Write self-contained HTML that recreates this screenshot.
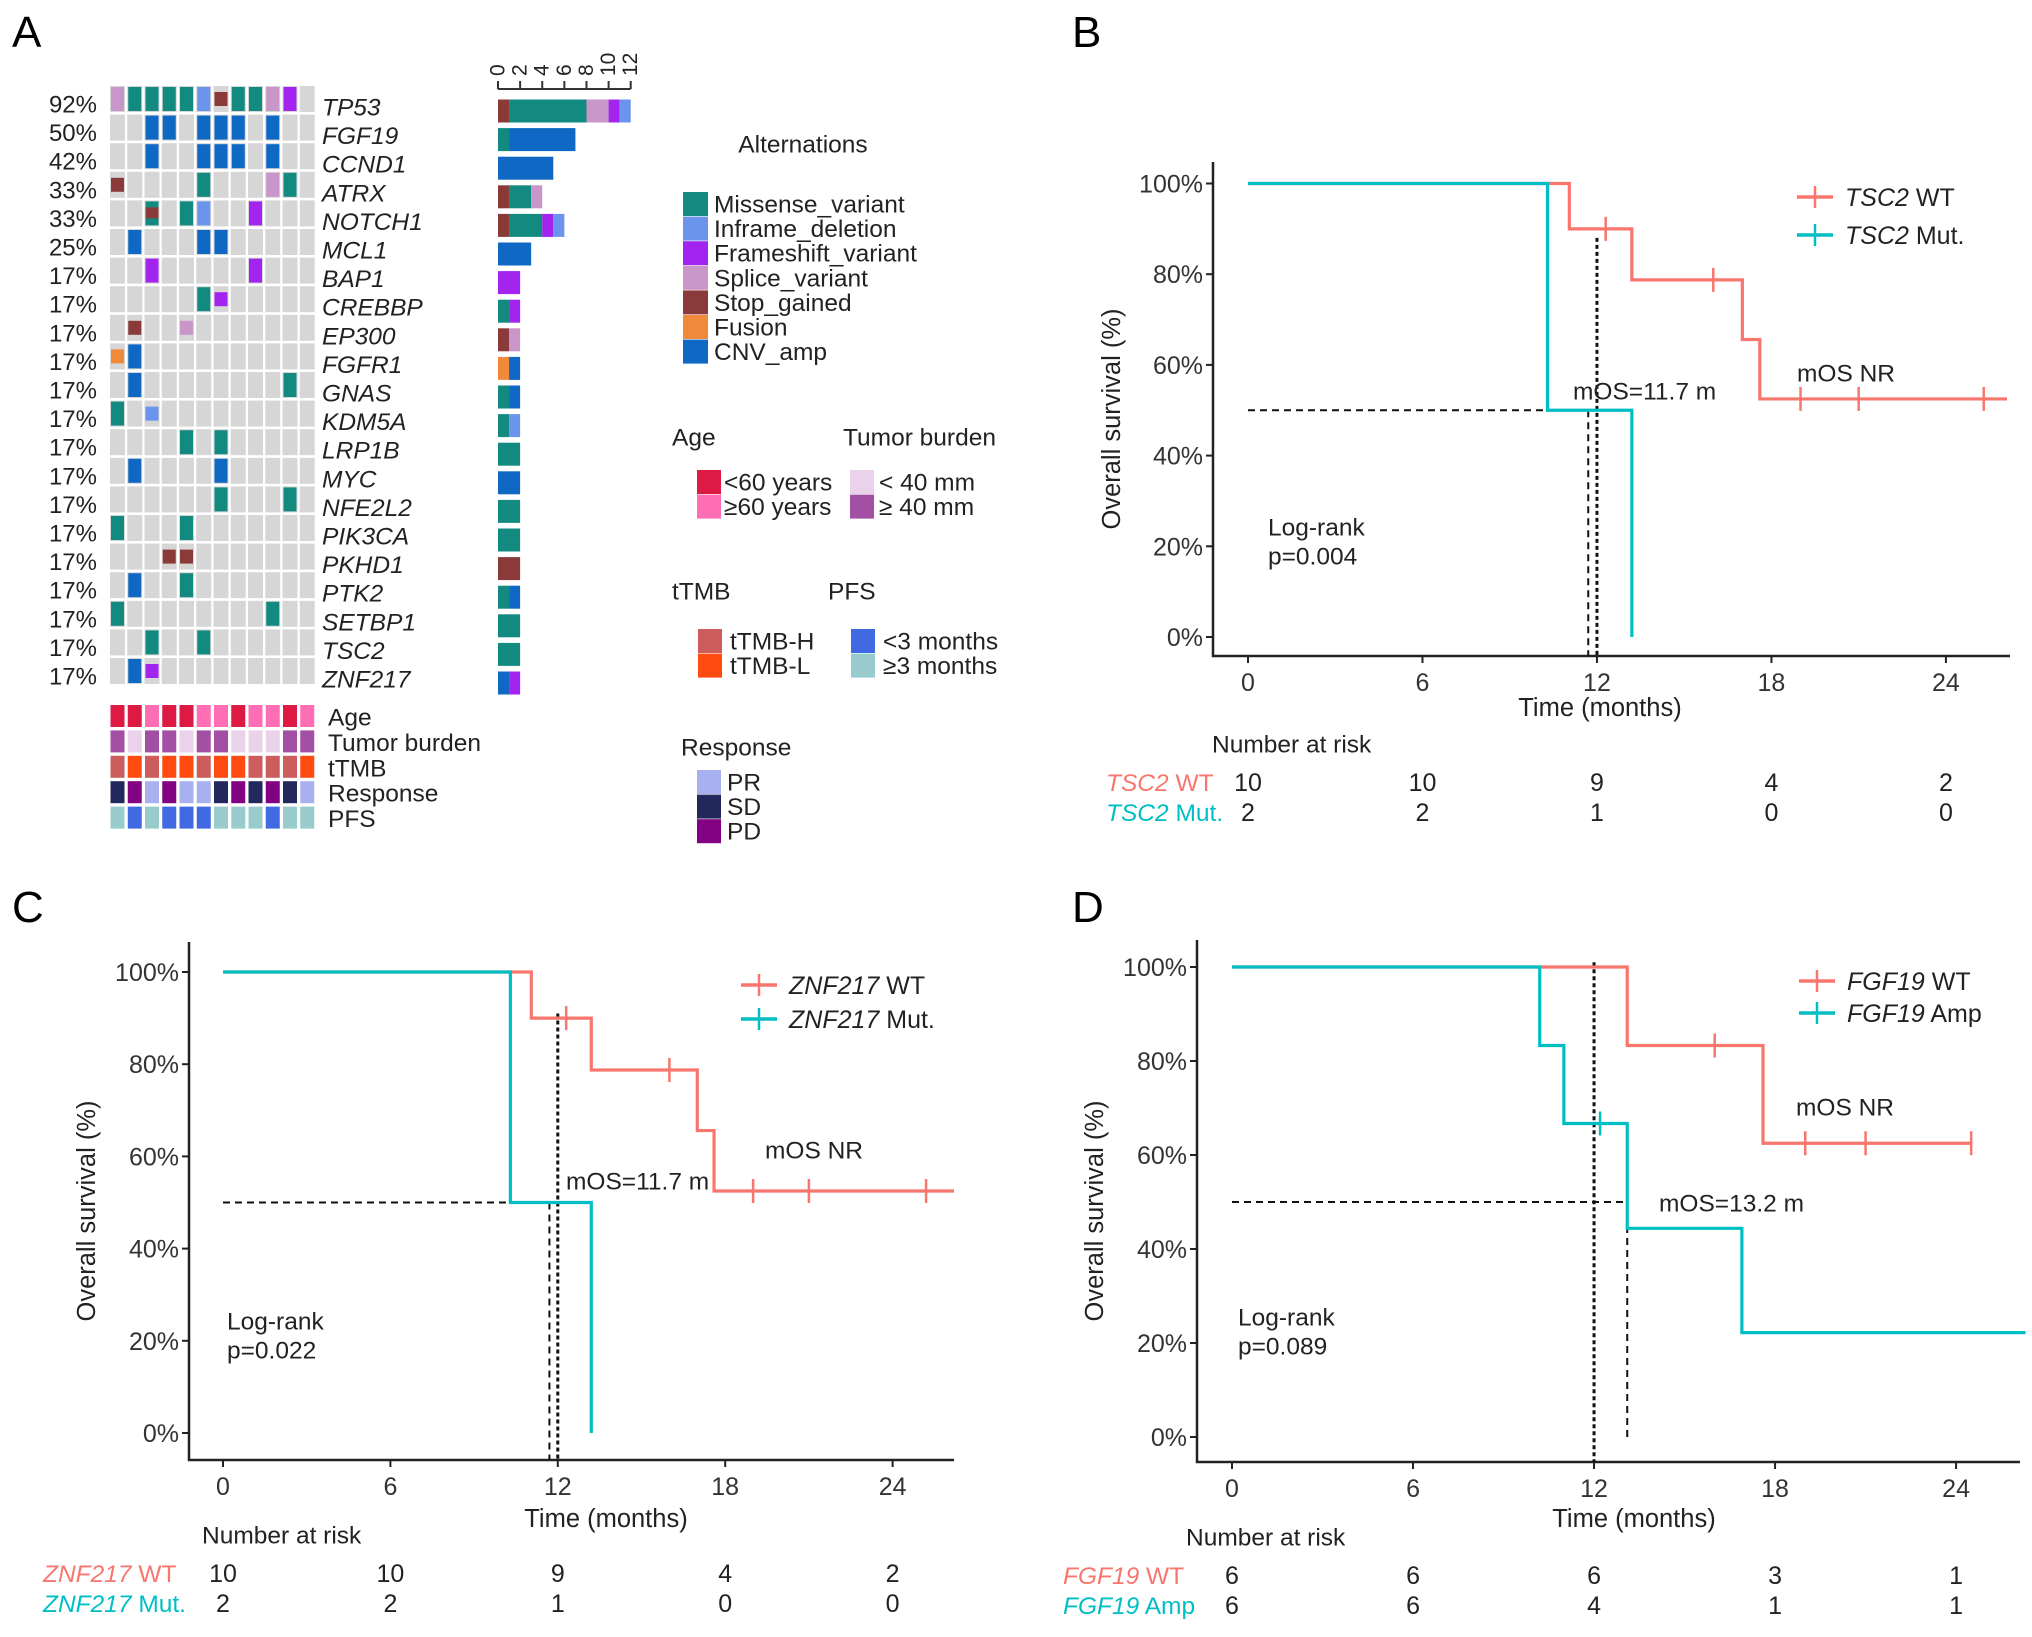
<!DOCTYPE html>
<html><head><meta charset="utf-8">
<style>
html,body{margin:0;padding:0;background:#fff;}
svg{display:block;font-family:"Liberation Sans",Arial,sans-serif;}
</style></head>
<body>
<svg id="fig" xmlns="http://www.w3.org/2000/svg" width="2032" height="1637" viewBox="0 0 2032 1637">
<rect width="2032" height="1637" fill="#fff"/>
<text x="12" y="47" font-size="44">A</text>
<text x="1072" y="47" font-size="44">B</text>
<text x="12" y="922" font-size="44">C</text>
<text x="1072" y="922" font-size="44">D</text>
<g id="gA"></g>
<g id="gB"></g>
<g id="gC"></g>
<g id="gD"></g>
</svg>
<script>
// ---------- Oncoprint data ----------
const genes = ["TP53","FGF19","CCND1","ATRX","NOTCH1","MCL1","BAP1","CREBBP","EP300","FGFR1","GNAS","KDM5A","LRP1B","MYC","NFE2L2","PIK3CA","PKHD1","PTK2","SETBP1","TSC2","ZNF217"];
const pctLabels = ["92%","50%","42%","33%","33%","25%","17%","17%","17%","17%","17%","17%","17%","17%","17%","17%","17%","17%","17%","17%","17%"];
// M missense, I inframe, F frameshift, P splice, X stop, U fusion, C cnv, Z missense+stop; lowercase = small mark
const mutMatrix = [
"PMMMMIxMMPF.",
"..CC.CCC.C..",
"..C..CCC.C..",
"x....M...PM.",
"..Z.MI..F...",
".C...CC.....",
"..F.....F...",
".....Mf.....",
".x..p.......",
"uC..........",
".C........M.",
"M.i.........",
"....M.M.....",
".C....C.....",
"......M...M.",
"M...M.......",
"...xx.......",
".C..M.......",
"M........M..",
"..M..M......",
".Cf........."];
const barSegments = [
[["X",1],["M",7],["P",2],["F",1],["I",1]],
[["M",1],["C",6]],
[["C",5]],
[["X",1],["M",2],["P",1]],
[["X",1],["M",3],["F",1],["I",1]],
[["C",3]],
[["F",2]],
[["M",1],["F",1]],
[["X",1],["P",1]],
[["U",1],["C",1]],
[["M",1],["C",1]],
[["M",1],["I",1]],
[["M",2]],
[["C",2]],
[["M",2]],
[["M",2]],
[["X",2]],
[["M",1],["C",1]],
[["M",2]],
[["M",2]],
[["C",1],["F",1]]];
const barTicks = [0,2,4,6,8,10,12];
const annoNames = ["Age","Tumor burden","tTMB","Response","PFS"];
const annoAge = "yyoyyooyooyo";
const annoTumor = "hlhhlhhlllhh";
const annoTmb = "HLHLLHLLHHHL";
const annoResp = "SDRDRRSDSDSR";
const annoPfs = "lslssslllsll";

const mutColors = {M:"#138a80",I:"#6b95ec",F:"#a424ef",P:"#c896c8",X:"#8b3a3a",U:"#f08a3a",C:"#0e68c4"};
const mutNames = ["Missense_variant","Inframe_deletion","Frameshift_variant","Splice_variant","Stop_gained","Fusion","CNV_amp"];
const mutKeys = ["M","I","F","P","X","U","C"];
const annoColors = {
 Age:{y:"#dc1a44",o:"#ff6eb4"},
 "Tumor burden":{h:"#a34fa3",l:"#ead3ea"},
 tTMB:{H:"#cd5c5c",L:"#ff4a10"},
 Response:{R:"#a8b0f0",S:"#23285c",D:"#820082"},
 PFS:{s:"#4169e1",l:"#98cccc"}};

const NS="http://www.w3.org/2000/svg";
function mk(tag,attrs,parent,txt){const e=document.createElementNS(NS,tag);for(const k in attrs)e.setAttribute(k,attrs[k]);if(txt!==undefined)e.textContent=txt;parent.appendChild(e);return e;}

// ---------- draw oncoprint ----------
(function(){
 const g=document.getElementById("gA");
 const gx0=110, colW=17.25, cellW=15, gy0=86, rowH=28.6, cellH=26;
 genes.forEach((gn,r)=>{
  const y=gy0+r*rowH, cy=y+cellH/2;
  const pl=mk("text",{x:97,y:cy+6,"font-size":24,"text-anchor":"end","dominant-baseline":"central",fill:"#222"},g,pctLabels[r]);
  
  
  const gl=mk("text",{x:322,y:cy+9,"font-size":24.5,"font-style":"italic","dominant-baseline":"central",fill:"#222"},g,gn);
  
  
  for(let c=0;c<12;c++){
   const x=gx0+c*colW;
   const bg=mk("rect",{x:x,y:y,width:cellW,height:cellH,fill:"#d6d6d6"},g);
   
   
   const ch=mutMatrix[r][c];
   if(ch==='.')continue;
   if(ch==='Z'){
    const a=mk("rect",{x:x+1,y:y+1,width:cellW-2,height:cellH-2,fill:mutColors.M},g);
    
    
    const b=mk("rect",{x:x+1,y:y+7,width:cellW-2,height:11,fill:mutColors.X},g);
    
    
    continue;
   }
   const small=(ch===ch.toLowerCase());
   const k=ch.toUpperCase();
   const h=small?14:cellH-2;
   const m=mk("rect",{x:x+1,y:y+(cellH-h)/2,width:cellW-2,height:h,fill:mutColors[k]},g);
   
   
  }
  let acc=0;
  const bx0=498, unit=11.06;
  barSegments[r].forEach(s=>{
   const br=mk("rect",{x:bx0+acc*unit,y:cy+12-11.5,width:s[1]*unit,height:23,fill:mutColors[s[0]]},g);
   
   
   acc+=s[1];
  });
 });
 const bx0=498, unit=11.06;
 mk("line",{x1:bx0,x2:bx0+12*unit,y1:89,y2:89,stroke:"#333","stroke-width":2},g);
 barTicks.forEach(v=>{
  const x=bx0+v*unit;
  const t=mk("line",{x1:x,x2:x,y1:89,y2:81,stroke:"#333","stroke-width":2},g);
  
  
  const l=mk("text",{x:0,y:0,"font-size":21,"text-anchor":"start","dominant-baseline":"central",transform:`translate(${x},76) rotate(-90)`,fill:"#222"},g,String(v));
  
  
 });
 const annoData=[annoAge,annoTumor,annoTmb,annoResp,annoPfs];
 annoNames.forEach((nm,r)=>{
  const y=705+r*25.4;
  for(let c=0;c<12;c++){
   const a=mk("rect",{x:gx0+c*colW+0.5,y:y,width:cellW-1,height:22,fill:annoColors[nm][annoData[r][c]]},g);
   
   
  }
  const t=mk("text",{x:328,y:y+13,"font-size":24.5,"dominant-baseline":"central",fill:"#222"},g,nm);
  
  
 });
 const lg=mk("g",{},g);  
 mk("text",{x:803,y:145,"font-size":24.5,"text-anchor":"middle","dominant-baseline":"central",fill:"#222"},lg,"Alternations");
 mutKeys.forEach((k,i)=>{
  const y=204+i*24.6;
  mk("rect",{x:683,y:y-12,width:25,height:24,fill:mutColors[k]},lg);
  mk("text",{x:714,y:y+1,"font-size":24.5,"dominant-baseline":"central",fill:"#222"},lg,mutNames[i]);
 });
 function legBlock(title,tx,ty,items,sx,sy,txx){
  const b=mk("g",{},g);  
  if(title) mk("text",{x:tx,y:ty,"font-size":24.5,"dominant-baseline":"central",fill:"#222"},b,title);
  items.forEach((it,i)=>{
   const y=sy+i*24.6;
   mk("rect",{x:sx,y:y-12,width:24,height:24,fill:it[0]},b);
   mk("text",{x:txx,y:y+1,"font-size":24.5,"dominant-baseline":"central",fill:"#222"},b,it[1]);
  });
 }
 legBlock("Age",672,438,[[annoColors.Age.y,"<60 years"],[annoColors.Age.o,"\u226560 years"]],697,482,724);
 legBlock("Tumor burden",843,438,[[annoColors["Tumor burden"].l,"< 40 mm"],[annoColors["Tumor burden"].h,"\u2265 40 mm"]],850,482,879);
 legBlock("tTMB",672,592,[[annoColors.tTMB.H,"tTMB-H"],[annoColors.tTMB.L,"tTMB-L"]],698,641,730);
 legBlock("PFS",828,592,[[annoColors.PFS.s,"<3 months"],[annoColors.PFS.l,"\u22653 months"]],851,641,883);
 legBlock("Response",681,748,[[annoColors.Response.R,"PR"],[annoColors.Response.S,"SD"],[annoColors.Response.D,"PD"]],697,782,727);
})();

// ---------- KM data ----------
const xTicks=[0,6,12,18,24];
const yTicks=[0,20,40,60,80,100];
// Panel B
const bWtTimes=[0,11.05,13.2,17.0,17.6,26.1];
const bWtSurv=[100,90,78.75,65.6,52.5,52.5];
const bWtCensor=[12.3,16.0,19.0,21.0,25.3];
const bMutTimes=[0,10.3,13.2];
const bMutSurv=[100,50,0];
const bMutCensor=[];
const bRiskWt=["10","10","9","4","2"];
const bRiskMut=["2","2","1","0","0"];
// Panel C
const cWtTimes=[0,11.05,13.2,17.0,17.6,26.2];
const cWtSurv=[100,90,78.75,65.6,52.5,52.5];
const cWtCensor=[12.3,16.0,19.0,21.0,25.2];
const cMutTimes=[0,10.3,13.2];
const cMutSurv=[100,50,0];
const cMutCensor=[];
const cRiskWt=["10","10","9","4","2"];
const cRiskMut=["2","2","1","0","0"];
// Panel D
const dWtTimes=[0,13.1,17.6,24.5];
const dWtSurv=[100,83.3,62.5,62.5];
const dWtCensor=[16.0,19.0,21.0,24.5];
const dAmpTimes=[0,10.2,11.0,13.1,16.9,26.3];
const dAmpSurv=[100,83.3,66.7,44.4,22.2,22.2];
const dAmpCensor=[12.2];
const dRiskWt=["6","6","6","3","1"];
const dRiskAmp=["6","6","4","1","1"];

const WT="#f8766d", MUT="#00bfc4";

function drawKM(gid,geo,series,risk,extras){
 const g=document.getElementById(gid);
 const X=t=>geo.x0+t*geo.sx;
 const Y=s=>geo.y0-s*geo.sy;
 const ax=mk("path",{d:`M${geo.axL},${geo.axT} V${geo.axB} H${geo.axR}`,fill:"none",stroke:"#222","stroke-width":2.5},g);
  
 yTicks.forEach(v=>{
  const y=Y(v);
  const t=mk("line",{x1:geo.axL-7,x2:geo.axL,y1:y,y2:y,stroke:"#222","stroke-width":2},g);
   
  const l=mk("text",{x:geo.axL-10,y:y+1,"font-size":25,"text-anchor":"end","dominant-baseline":"central",fill:"#333"},g,v+"%");
   
 });
 xTicks.forEach(v=>{
  const x=X(v);
  const t=mk("line",{x1:x,x2:x,y1:geo.axB,y2:geo.axB+7,stroke:"#222","stroke-width":2},g);
   
  const l=mk("text",{x:x,y:geo.axB+27,"font-size":25,"text-anchor":"middle","dominant-baseline":"central",fill:"#333"},g,String(v));
   
 });
 const xt=mk("text",{x:geo.xTitleX,y:geo.axB+52+geo.tDy,"font-size":25.5,"text-anchor":"middle","dominant-baseline":"central",fill:"#222"},g,"Time (months)");
  
 const yc=(geo.axT+geo.axB)/2+10;
 const yt=mk("text",{x:0,y:0,"font-size":25.5,"text-anchor":"middle","dominant-baseline":"central",transform:`translate(${geo.yTitleX},${yc}) rotate(-90)`,fill:"#222"},g,"Overall survival (%)");
  
 extras.dashes.forEach(d=>{
  const ln=mk("line",{x1:X(d[0]),y1:Y(d[1]),x2:X(d[2]),y2:d[3]===null?geo.axB:Y(d[3]),stroke:"#111","stroke-width":d[4],"stroke-dasharray":d[5]},g);
   
 });
 series.forEach(s=>{
  let d=`M${X(s.times[0])},${Y(s.surv[0])}`;
  for(let i=1;i<s.times.length;i++){d+=` H${X(s.times[i])} V${Y(s.surv[i])}`;}
  const p=mk("path",{d:d,fill:"none",stroke:s.color,"stroke-width":3.2},g);
   
  s.censor.forEach(ct=>{
   let sv=s.surv[0];
   for(let i=0;i<s.times.length;i++){if(s.times[i]<=ct)sv=s.surv[i];}
   const c=mk("line",{x1:X(ct),x2:X(ct),y1:Y(sv)-12,y2:Y(sv)+12,stroke:s.color,"stroke-width":2.5},g);
    
  });
 });
 series.forEach((s,i)=>{
  const lg=mk("g",{},g);  
  const y=geo.legY+i*geo.legDy;
  mk("line",{x1:geo.legX,x2:geo.legX+36,y1:y,y2:y,stroke:s.color,"stroke-width":3.5},lg);
  mk("line",{x1:geo.legX+18,x2:geo.legX+18,y1:y-11,y2:y+11,stroke:s.color,"stroke-width":2.5},lg);
  const t=mk("text",{x:geo.legX+48,y:y+1,"font-size":25,"dominant-baseline":"central",fill:"#222"},lg);
  mk("tspan",{"font-style":"italic"},t,extras.gene);
  mk("tspan",{},t," "+s.label);
 });
 extras.notes.forEach(n=>{
  const t=mk("text",{x:n[0],y:n[1],"font-size":24.5,"dominant-baseline":"central",fill:"#222"},g,n[2]);
   
 });
 const rt=mk("text",{x:geo.nrX,y:geo.axB+89+geo.rDy,"font-size":24.5,"dominant-baseline":"central",fill:"#222"},g,"Number at risk");
  
 series.forEach((s,i)=>{
  const y=geo.axB+127+geo.rDy+i*30;
  const lab=mk("text",{x:geo.rlX,y:y,"font-size":24.5,"dominant-baseline":"central",fill:s.color},g);
   
  mk("tspan",{"font-style":"italic"},lab,extras.gene);
  mk("tspan",{},lab," "+s.label);
  risk[i].forEach((v,j)=>{
   const n=mk("text",{x:X(xTicks[j]),y:y,"font-size":25,"text-anchor":"middle","dominant-baseline":"central",fill:"#222"},g,v);
    
  });
 });
}

drawKM("gB",{x0:1248,sx:29.08,y0:637,sy:4.535,axL:1213,axT:162,axB:656,axR:2010,xTitleX:1600,yTitleX:1112,legX:1797,legY:197,legDy:38,nrX:1212,rlX:1106,tDy:0,rDy:0},
 [{name:"tsc2-wt",times:bWtTimes,surv:bWtSurv,censor:bWtCensor,color:WT,label:"WT"},
  {name:"tsc2-mut",times:bMutTimes,surv:bMutSurv,censor:bMutCensor,color:MUT,label:"Mut."}],
 [bRiskWt,bRiskMut],
 {gene:"TSC2",dashes:[[0,50,12.0,50,2,"7,5"],[11.7,50,11.7,null,2,"7,5"],[12.0,88,12.0,null,3,"4,3"]],
  notes:[[1573,392,"mOS=11.7 m"],[1797,374,"mOS NR"],[1268,528,"Log-rank"],[1268,557,"p=0.004"]]});

drawKM("gC",{x0:223,sx:27.9,y0:1433,sy:4.61,axL:189,axT:942,axB:1460,axR:954,xTitleX:606,yTitleX:87,legX:741,legY:985,legDy:34,nrX:202,rlX:43,tDy:7,rDy:-13},
 [{name:"znf217-wt",times:cWtTimes,surv:cWtSurv,censor:cWtCensor,color:WT,label:"WT"},
  {name:"znf217-mut",times:cMutTimes,surv:cMutSurv,censor:cMutCensor,color:MUT,label:"Mut."}],
 [cRiskWt,cRiskMut],
 {gene:"ZNF217",dashes:[[0,50,12.0,50,2,"7,5"],[11.7,50,11.7,null,2,"7,5"],[12.0,91,12.0,null,3,"4,3"]],
  notes:[[566,1182,"mOS=11.7 m"],[765,1151,"mOS NR"],[227,1322,"Log-rank"],[227,1351,"p=0.022"]]});

drawKM("gD",{x0:1232,sx:30.17,y0:1437,sy:4.70,axL:1197,axT:940,axB:1462,axR:2020,xTitleX:1634,yTitleX:1095,legX:1799,legY:981,legDy:32,nrX:1186,rlX:1063,tDy:5,rDy:-13},
 [{name:"fgf19-wt",times:dWtTimes,surv:dWtSurv,censor:dWtCensor,color:WT,label:"WT"},
  {name:"fgf19-amp",times:dAmpTimes,surv:dAmpSurv,censor:dAmpCensor,color:MUT,label:"Amp"}],
 [dRiskWt,dRiskAmp],
 {gene:"FGF19",dashes:[[0,50,13.1,50,2,"7,5"],[13.1,50,13.1,0,2,"7,5"],[12.0,101,12.0,null,3,"4,3"]],
  notes:[[1659,1204,"mOS=13.2 m"],[1796,1108,"mOS NR"],[1238,1318,"Log-rank"],[1238,1347,"p=0.089"]]});
</script>
</body></html>
